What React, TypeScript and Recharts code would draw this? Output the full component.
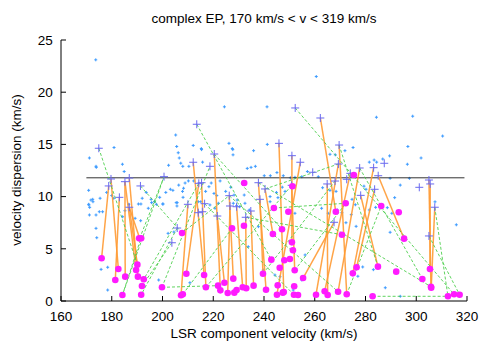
import React from "react";
import { ScatterChart, Scatter, XAxis, YAxis } from "recharts";

type Pt = { x: number; y: number };
type Link = [number, number, number, number];

const xTicks = [160, 180, 200, 220, 240, 260, 280, 300, 320];
const yTicks = [0, 5, 10, 15, 20, 25];

// individual measurements (small light-blue crosses)
const bluePoints: Pt[] = [
  [173.7, 23.1], [180.9, 14.7], [171.2, 13.7], [173.8, 12.9], [184.2, 13.1], [205.2, 15.9],
  [205.6, 14.8], [206.2, 14.2], [206.6, 13.7], [207.2, 13.2], [202.4, 13.0], [210.4, 12.9],
  [208.0, 12.9], [212.1, 14.9], [215.3, 14.6], [215.8, 13.3], [224.4, 18.6], [226.2, 15.1],
  [227.5, 14.6], [227.8, 14.0], [234.9, 12.8], [236.6, 12.9], [235.9, 14.4], [241.2, 18.6],
  [241.3, 15.0], [260.6, 21.5], [284.3, 17.6], [298.6, 17.7], [310.4, 15.8], [296.7, 14.8],
  [301.9, 13.7], [296.5, 13.1], [271.9, 14.4], [275.1, 14.7], [266.0, 14.05], [281.5, 13.3],
  [283.4, 13.5], [284.4, 13.3], [286.8, 13.6], [289.5, 13.9], [297.3, 11.75], [293.7, 11.1],
  [289.7, 11.75], [268.1, 14.0], [268.4, 10.5], [274.7, 9.74], [276.0, 9.22], [279.4, 11.0],
  [280.2, 10.7], [291.5, 9.9], [315.8, 7.3], [307.4, 9.5], [293.7, 0.45], [287.8, 1.27],
  [283.1, 3.0], [278.9, 3.26], [277.0, 2.37], [276.3, 7.15], [272.3, 7.5], [274.4, 8.27],
  [281.5, 8.72], [284.0, 8.97], [288.6, 8.94], [290.4, 8.4], [289.7, 6.58], [268.9, 8.72],
  [270.7, 8.46], [170.9, 9.26], [171.3, 8.97], [171.8, 9.67], [172.6, 9.51], [173.8, 8.24],
  [175.1, 8.55], [176.4, 8.55], [171.2, 8.24], [173.8, 6.96], [174.1, 6.06], [175.8, 3.03],
  [178.4, 3.23], [178.4, 1.05], [191.5, 9.29], [195.7, 9.42], [200.2, 9.29], [205.4, 9.42],
  [205.7, 9.1], [184.3, 8.07], [185.2, 8.65], [189.2, 7.92], [191.4, 7.69], [194.4, 8.88],
  [202.2, 6.48], [204.5, 6.61], [198.5, 2.01], [192.7, 1.47], [210.8, 1.75], [210.2, 11.5],
  [212.3, 11.5], [208.9, 11.3], [206.4, 11.1], [208.3, 10.8], [207.9, 10.5], [208.1, 9.93],
  [205.8, 9.42], [203.1, 10.7], [204.1, 10.6], [201.3, 10.4], [198.9, 9.93], [200.1, 9.29],
  [197.6, 9.26], [192.0, 9.84], [193.6, 10.4], [195.5, 9.74], [196.8, 9.51], [190.5, 9.29],
  [170.9, 10.6], [172.5, 9.74], [171.0, 9.2], [173.9, 12.8], [175.4, 9.84], [178.0, 10.4],
  [180.0, 10.1], [180.8, 9.84], [184.9, 12.4], [186.7, 9.26], [227.7, 14.5], [215.4, 14.5],
  [233.4, 12.7], [240.1, 12.0], [242.5, 12.0], [245.1, 12.3], [247.6, 12.0], [250.4, 11.8],
  [244.9, 10.4], [247.2, 10.9], [242.4, 10.0], [245.5, 9.9], [248.3, 10.5], [252.2, 11.85],
  [254.9, 11.9], [257.1, 12.4], [261.4, 11.9], [263.1, 10.85], [266.0, 10.6], [222.7, 11.5],
  [219.2, 11.3], [218.3, 10.95], [217.0, 10.5], [220.3, 10.3], [221.4, 10.1], [224.9, 10.5],
  [226.9, 10.9], [228.2, 10.15], [229.4, 9.67], [232.2, 10.15], [230.4, 9.03], [234.2, 8.72],
  [214.1, 9.51], [215.1, 9.51], [218.7, 9.2], [220.7, 8.88], [222.0, 9.36], [227.9, 9.36],
  [229.2, 9.13], [232.5, 9.36], [237.8, 7.12], [233.8, 5.2], [239.7, 2.97], [244.3, 2.49],
  [246.3, 2.33], [254.9, 2.01], [256.2, 4.41], [262.7, 8.88], [265.3, 8.4], [251.5, 1.05],
  [242.4, 9.51], [252.2, 8.4],
].map(([x, y]) => ({ x, y }));

// component start points (purple crosses)
const purplePoints: Pt[] = [
  [174.9, 14.63], [213.5, 16.93], [220.4, 14.08], [212.1, 13.29], [218.7, 12.9], [245.9, 15.1],
  [252.3, 18.49], [262.2, 17.53], [251.0, 13.92], [254.3, 13.29], [269.6, 14.94], [269.3, 13.12],
  [277.7, 12.74], [283.2, 12.77], [287.4, 13.19], [178.8, 11.02], [179.7, 11.69], [183.0, 9.93],
  [185.2, 11.43], [186.9, 11.78], [191.3, 11.02], [200.6, 11.91], [210.0, 9.26], [214.3, 11.27],
  [215.4, 11.33], [226.3, 10.09], [259.2, 12.33], [237.8, 11.33], [240.4, 10.73], [238.4, 9.74],
  [264.9, 11.21], [250.9, 11.08], [274.0, 12.23], [285.0, 12.0], [272.6, 11.66], [268.0, 11.49],
  [305.0, 11.59], [305.5, 11.21], [301.2, 10.89], [283.6, 10.7], [307.3, 8.98], [278.1, 10.12],
  [215.7, 8.55], [221.6, 8.14], [226.6, 9.1], [234.8, 8.62], [232.8, 8.02], [216.6, 9.32],
  [267.6, 7.54], [305.0, 6.23], [205.8, 6.99], [203.7, 5.58], [186.9, 8.98], [214.1, 8.46],
  [229.2, 9.03],
].map(([x, y]) => ({ x, y }));

// component end points (magenta dots)
const magentaPoints: Pt[] = [
  [176.0, 4.09], [182.6, 3.07], [181.4, 2.01], [185.3, 2.33], [190.1, 3.48], [189.6, 2.97],
  [190.3, 2.33], [192.6, 2.08], [191.9, 1.44], [191.6, 0.6], [184.2, 0.57], [190.8, 6.0],
  [191.6, 6.0], [207.7, 6.51], [209.4, 2.61], [199.8, 1.31], [207.3, 0.55], [208.0, 0.64],
  [243.9, 8.91], [232.1, 7.21], [227.4, 6.96], [243.5, 6.42], [247.1, 6.87], [251.0, 5.62],
  [251.4, 4.86], [242.9, 3.96], [248.0, 3.9], [250.2, 4.02], [246.2, 3.19], [252.1, 2.94],
  [239.6, 2.61], [216.4, 2.49], [217.1, 1.31], [221.9, 1.47], [222.8, 1.02], [225.7, 0.77],
  [224.4, 1.75], [227.9, 2.14], [228.3, 0.8], [229.2, 1.05], [231.6, 1.31], [233.0, 1.22],
  [235.9, 1.47], [240.8, 1.08], [245.1, 0.6], [245.4, 1.5], [247.4, 0.8], [247.8, 0.86],
  [251.9, 1.41], [251.8, 0.6], [253.4, 0.57], [255.4, 2.2], [260.5, 0.6], [263.9, 0.93],
  [265.1, 0.57], [249.6, 8.55], [272.2, 9.36], [268.3, 8.55], [270.7, 6.35], [286.2, 9.1],
  [293.1, 8.5], [295.2, 5.97], [284.9, 3.29], [276.5, 3.23], [275.0, 2.65], [292.1, 2.81],
  [302.4, 2.11], [305.4, 3.07], [305.8, 1.37], [305.9, 1.27], [269.2, 0.89], [272.6, 0.64],
  [282.8, 0.45], [312.5, 0.45], [314.9, 0.64], [317.1, 0.6], [232.2, 11.3], [251.2, 10.99],
  [275.4, 12.07],
].map(([x, y]) => ({ x, y }));

// start -> end of the same component (orange)
const orangeLinks: Link[] = [
  [178.8, 11.02, 176.0, 4.09], [179.7, 11.69, 182.6, 3.07], [183.0, 9.93, 181.4, 2.01],
  [185.2, 11.43, 185.3, 2.33], [185.2, 11.43, 189.6, 2.97], [186.9, 11.78, 190.3, 2.33],
  [186.9, 8.98, 190.1, 3.48], [186.9, 8.98, 191.0, 6.0], [212.1, 13.29, 216.4, 2.49],
  [214.3, 11.27, 209.4, 2.61], [215.4, 11.33, 217.1, 1.31], [210.0, 9.26, 207.3, 0.55],
  [221.6, 8.14, 224.4, 1.75], [226.3, 10.09, 227.9, 2.14], [226.6, 9.1, 225.7, 0.77],
  [220.4, 14.08, 222.8, 1.02], [229.2, 9.03, 231.6, 1.31], [237.8, 11.33, 240.8, 1.08],
  [240.4, 10.73, 243.5, 6.42], [238.4, 9.74, 239.6, 2.61], [245.9, 15.1, 247.8, 0.86],
  [250.9, 11.08, 252.1, 2.94], [251.0, 13.92, 251.0, 5.62], [254.3, 13.29, 245.1, 0.6],
  [262.2, 17.53, 268.3, 8.55], [269.3, 13.12, 260.5, 0.6], [269.6, 14.94, 272.6, 0.64],
  [264.9, 11.21, 265.1, 0.57], [267.6, 7.54, 255.4, 2.2], [278.1, 10.12, 284.9, 3.29],
  [283.6, 10.7, 276.5, 3.23], [283.2, 12.77, 275.0, 2.65], [285.0, 12.0, 295.2, 5.97],
  [305.0, 11.59, 305.8, 1.37], [305.5, 11.21, 305.4, 3.07], [307.3, 8.98, 305.9, 1.27],
  [277.7, 12.74, 269.2, 0.89], [234.8, 8.62, 235.9, 1.47], [232.8, 8.02, 233.0, 1.22],
  [274.0, 12.23, 263.9, 0.93],
];

// links between components (green dashed)
const greenLinks: Link[] = [
  [174.9, 14.63, 190.1, 3.48], [213.5, 16.93, 242.9, 3.96], [252.3, 18.49, 314.9, 0.64],
  [220.4, 14.08, 247.1, 6.87], [191.3, 11.02, 207.7, 6.51], [200.6, 11.91, 184.2, 0.57],
  [199.8, 1.31, 221.9, 1.47], [282.8, 0.45, 312.5, 0.45], [205.8, 6.99, 191.6, 0.6],
  [203.7, 5.58, 191.9, 1.44], [214.3, 11.27, 192.6, 2.08], [191.0, 6.0, 200.6, 11.91],
  [217.1, 1.31, 250.9, 11.08], [208.0, 0.64, 227.4, 6.96], [226.3, 10.09, 269.2, 0.89],
  [237.8, 11.33, 305.8, 1.37], [269.6, 14.94, 284.9, 3.29], [277.7, 12.74, 302.4, 2.11],
  [305.0, 6.23, 317.1, 0.6], [307.3, 8.98, 312.5, 0.45], [239.6, 2.61, 268.0, 11.49],
  [272.6, 0.64, 286.2, 9.1], [252.1, 2.94, 272.2, 9.36], [207.7, 6.51, 226.3, 10.09],
  [240.4, 10.73, 269.3, 13.12], [243.9, 8.91, 272.2, 9.36], [199.8, 1.31, 218.7, 12.9],
  [184.2, 0.57, 191.5, 6.0], [216.6, 9.32, 251.8, 0.6], [232.8, 8.02, 270.7, 6.35],
];

const meanLine: Pt[] = [
  { x: 170, y: 11.8 },
  { x: 319, y: 11.8 },
];

const BlueCross = ({ cx, cy }: any) => (
  <path d={`M${cx - 1.5},${cy}h3M${cx},${cy - 1.5}v3`} stroke="#3d9bff" strokeWidth={1} />
);
const PurpleCross = ({ cx, cy }: any) => (
  <path d={`M${cx - 4},${cy}h8M${cx},${cy - 4}v8`} stroke="#6a6af0" strokeWidth={1} />
);
const Dot = ({ cx, cy }: any) => <circle cx={cx} cy={cy} r={3.3} fill="#ff1aff" />;
const Nothing = () => <g />;

const W = 483;
const H = 335;
const font = "'Liberation Sans', Arial, sans-serif";

export default function App() {
  return (
    <div style={{ position: "relative", width: W, height: H, fontFamily: font, color: "#000" }}>
      <ScatterChart width={W} height={H} margin={{ top: 32, right: 24, bottom: 0, left: 0 }}>
        <XAxis
          type="number"
          dataKey="x"
          domain={[160, 320]}
          ticks={xTicks}
          interval={0}
          allowDataOverflow
          height={42}
          tickSize={-5}
          tickMargin={15.4}
          axisLine={{ stroke: "#000" }}
          tickLine={{ stroke: "#000" }}
          tick={{ fill: "#000", fontSize: 13.5 }}
        />
        <XAxis
          xAxisId="top"
          orientation="top"
          type="number"
          domain={[160, 320]}
          ticks={xTicks}
          interval={0}
          height={0}
          tickSize={-5}
          tick={false}
          axisLine={{ stroke: "#000" }}
          tickLine={{ stroke: "#000" }}
        />
        <YAxis
          type="number"
          dataKey="y"
          domain={[0, 25]}
          ticks={yTicks}
          interval={0}
          allowDataOverflow
          width={53}
          tickSize={-5}
          tickMargin={13.3}
          axisLine={{ stroke: "#000" }}
          tickLine={{ stroke: "#000" }}
          tick={{ fill: "#000", fontSize: 13.5 }}
        />
        <YAxis
          yAxisId="right"
          orientation="right"
          type="number"
          domain={[0, 25]}
          ticks={yTicks}
          interval={0}
          width={0}
          tickSize={-5}
          tick={false}
          axisLine={{ stroke: "#000" }}
          tickLine={{ stroke: "#000" }}
        />
        <Scatter data={bluePoints} shape={BlueCross} isAnimationActive={false} />
        <Scatter
          data={meanLine}
          line={{ stroke: "#333", strokeWidth: 1 }}
          shape={Nothing}
          isAnimationActive={false}
        />
        {orangeLinks.map(([x1, y1, x2, y2], i) => (
          <Scatter
            key={`o${i}`}
            data={[{ x: x1, y: y1 }, { x: x2, y: y2 }]}
            line={{ stroke: "#ff9a33", strokeWidth: 1.5, strokeOpacity: 0.9 }}
            shape={Nothing}
            isAnimationActive={false}
          />
        ))}
        {greenLinks.map(([x1, y1, x2, y2], i) => (
          <Scatter
            key={`g${i}`}
            data={[{ x: x1, y: y1 }, { x: x2, y: y2 }]}
            line={{ stroke: "#44cc44", strokeWidth: 1, strokeDasharray: "3 2", strokeOpacity: 0.85 }}
            shape={Nothing}
            isAnimationActive={false}
          />
        ))}
        <Scatter data={purplePoints} shape={PurpleCross} isAnimationActive={false} />
        <Scatter data={magentaPoints} shape={Dot} isAnimationActive={false} />
      </ScatterChart>
      <div
        style={{
          position: "absolute",
          left: 56,
          width: 400,
          top: 4.3,
          textAlign: "center",
          fontSize: 13.5,
          lineHeight: "14px",
        }}
      >
        complex EP, 170 km/s &lt; v &lt; 319 km/s
      </div>
      <div
        style={{
          position: "absolute",
          left: 56,
          width: 400,
          top: 319,
          textAlign: "center",
          fontSize: 13.5,
          lineHeight: "14px",
        }}
      >
        LSR component velocity (km/s)
      </div>
      <div
        style={{
          position: "absolute",
          left: 9 - 150,
          width: 300,
          top: 162 - 7,
          textAlign: "center",
          fontSize: 13.5,
          lineHeight: "14px",
          transform: "rotate(-90deg)",
        }}
      >
        velocity dispersion (km/s)
      </div>
    </div>
  );
}
